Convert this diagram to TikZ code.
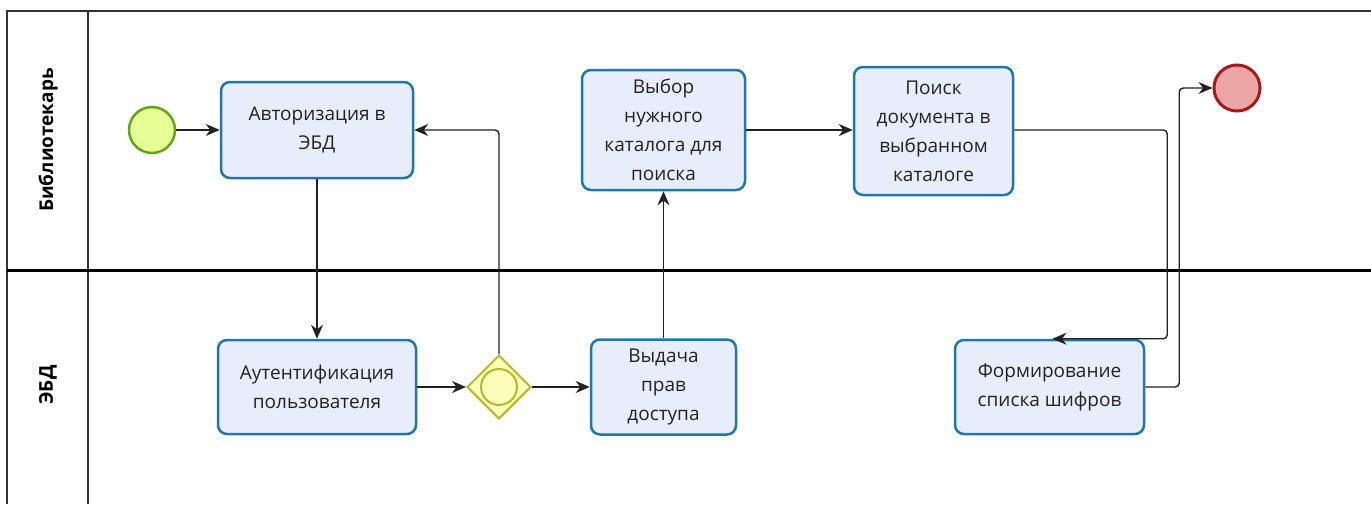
\documentclass[tikz,border=0pt]{standalone}
\usepackage{fontspec}
\setmainfont{Open Sans}
\usetikzlibrary{arrows.meta,calc,shapes.geometric}
\definecolor{taskfill}{HTML}{E8EDFB}
\definecolor{taskdraw}{HTML}{2277AA}
\definecolor{startfill}{HTML}{E6FF97}
\definecolor{startdraw}{HTML}{62A716}
\definecolor{endfill}{HTML}{EBA5A5}
\definecolor{enddraw}{HTML}{A51B1B}
\definecolor{gwfill}{HTML}{FDFDBA}
\definecolor{gwdraw}{HTML}{B7B72E}
\definecolor{txt}{HTML}{222222}
\tikzset{
  task/.style={draw=taskdraw, fill=taskfill, line width=2.5pt, rounded corners=9pt,
    align=center, text=txt, font=\fontsize{19}{29}\selectfont, inner sep=0pt},
  flow/.style={draw=txt, line width=1.4pt, -{Stealth[length=14pt,width=12pt]}},
  lanelabel/.style={rotate=90, font=\bfseries\fontsize{19}{22}\selectfont, text=black},
}
\begin{document}
\begin{tikzpicture}[x=1pt,y=-1pt]
\useasboundingbox (0,0) rectangle (1371,504);
% pool and lanes
\draw[line width=1.4pt, draw=black!80] (1371,11) -- (7,11) -- (7,504);
\draw[line width=1.4pt, draw=black!80] (88,11) -- (88,504);
\draw[line width=3pt] (7,270) -- (1371,270);
\node[lanelabel] (lane1) at (48,140) {Библиотекарь};
\node[lanelabel] (lane2) at (48,385) {ЭБД};
% events
\node[circle, draw=startdraw, fill=startfill, line width=2.5pt, minimum size=46pt, inner sep=0pt] (start) at (152,130) {};
\node[circle, draw=enddraw, fill=endfill, line width=3pt, minimum size=46pt, inner sep=0pt] (end) at (1237,88) {};
% tasks
\node[task, minimum width=192pt, minimum height=96pt] (t1) at (317,130) {Авторизация в\\ЭБД};
\node[task, minimum width=198pt, minimum height=94pt] (t2) at (317,387) {Аутентификация\\пользователя};
\node[task, minimum width=145pt, minimum height=95pt] (t3) at (663.5,387) {Выдача\\прав\\доступа};
\node[task, minimum width=163pt, minimum height=120pt] (t4) at (663.5,130) {Выбор\\нужного\\каталога для\\поиска};
\node[task, minimum width=159pt, minimum height=128pt] (t5) at (933.5,131) {Поиск\\документа в\\выбранном\\каталоге};
\node[task, minimum width=189pt, minimum height=94pt] (t6) at (1049.5,387) {Формирование\\списка шифров};
% gateway
\node[diamond, draw=gwdraw, fill=gwfill, line width=2pt, minimum width=64pt, minimum height=64pt, inner sep=0pt, shape aspect=1] (gw) at (499,387) {};
\node[circle, draw=gwdraw, line width=2pt, minimum size=36pt, inner sep=0pt] (gwc) at (gw.center) {};
% flows
\draw[flow] (start) -- (t1);
\draw[flow] (t1) -- (t2);
\draw[flow] (t2) -- (gw.west);
\draw[flow, rounded corners=4pt] (gw.north) |- (t1.east);
\draw[flow] (gw.east) -- (t3);
\draw[flow] (t3) -- (t4);
\draw[flow] (t4.east) -- (t4.east -| t5.west);
\draw[flow, rounded corners=4pt] (t5.east |- t4.east) -- ++(153,0) |- ([xshift=3pt]t6.north);
\draw[flow, rounded corners=4pt] (t6.east) -- ++(34,0) |- (end.west);
\end{tikzpicture}
\end{document}
